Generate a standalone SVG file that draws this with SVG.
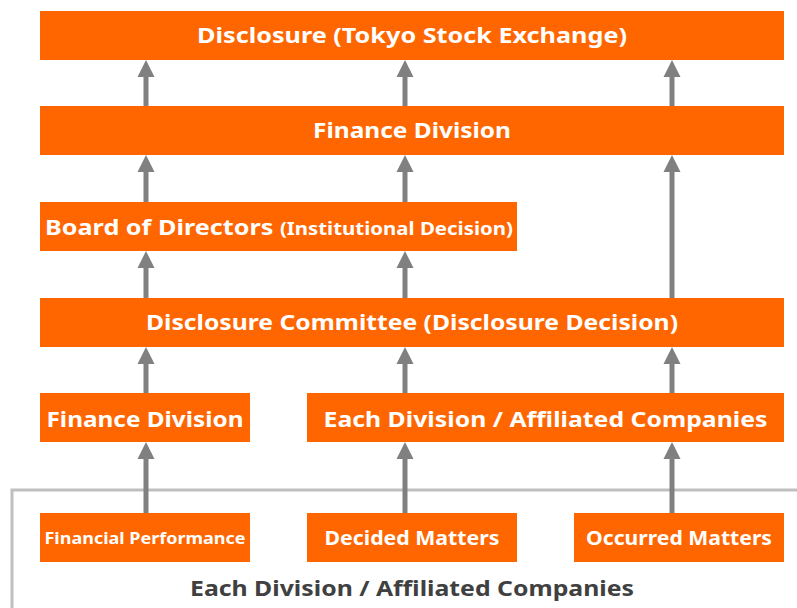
<svg xmlns="http://www.w3.org/2000/svg" width="797" height="608" viewBox="0 0 797 608">
<style>
.box{fill:#ff6600}
.t{font-family:"Noto Sans","DejaVu Sans",sans-serif;font-weight:bold;fill:#ffffff;text-anchor:middle}
.lbl{font-family:"Noto Sans","DejaVu Sans",sans-serif;font-weight:bold;fill:#404040;text-anchor:middle}
.sh{stroke:#808080;stroke-width:5;fill:none}
.hd{fill:#808080}
</style>
<defs>
<path id="ah" d="M0,0 L8.5,17 L-8.5,17 Z" class="hd"/>
</defs>
<rect width="797" height="608" fill="#ffffff"/>
<path d="M12,608 L12,490 L797,490" fill="none" stroke="#bfbfbf" stroke-width="3"/>
<g id="connectors">
<line class="sh" x1="146" y1="106" x2="146" y2="75"/><use href="#ah" x="146" y="60"/>
<line class="sh" x1="405" y1="106" x2="405" y2="75"/><use href="#ah" x="405" y="60"/>
<line class="sh" x1="672" y1="106" x2="672" y2="75"/><use href="#ah" x="672" y="60"/>
<line class="sh" x1="146" y1="202" x2="146" y2="170"/><use href="#ah" x="146" y="155"/>
<line class="sh" x1="405" y1="202" x2="405" y2="170"/><use href="#ah" x="405" y="155"/>
<line class="sh" x1="672" y1="298" x2="672" y2="170"/><use href="#ah" x="672" y="155"/>
<line class="sh" x1="146" y1="298" x2="146" y2="266"/><use href="#ah" x="146" y="251"/>
<line class="sh" x1="405" y1="298" x2="405" y2="266"/><use href="#ah" x="405" y="251"/>
<line class="sh" x1="146" y1="393" x2="146" y2="362"/><use href="#ah" x="146" y="347"/>
<line class="sh" x1="405" y1="393" x2="405" y2="362"/><use href="#ah" x="405" y="347"/>
<line class="sh" x1="672" y1="393" x2="672" y2="362"/><use href="#ah" x="672" y="347"/>
<line class="sh" x1="146" y1="513" x2="146" y2="457"/><use href="#ah" x="146" y="442"/>
<line class="sh" x1="405" y1="513" x2="405" y2="457"/><use href="#ah" x="405" y="442"/>
<line class="sh" x1="672" y1="513" x2="672" y2="457"/><use href="#ah" x="672" y="442"/>
</g>
<g id="disclosure-tse"><rect class="box" x="40" y="11" width="744" height="49"/><text class="t" x="412" y="43" font-size="22" textLength="430" lengthAdjust="spacingAndGlyphs">Disclosure (Tokyo Stock Exchange)</text></g>
<g id="finance-top"><rect class="box" x="40" y="106" width="744" height="49"/><text class="t" x="412" y="138" font-size="21" textLength="198" lengthAdjust="spacingAndGlyphs">Finance Division</text></g>
<g id="board"><rect class="box" x="40" y="202" width="477" height="49"/><text class="t" x="279" y="235" font-size="21" textLength="468" lengthAdjust="spacingAndGlyphs">Board of Directors <tspan font-size="17">(Institutional Decision)</tspan></text></g>
<g id="committee"><rect class="box" x="40" y="298" width="744" height="49"/><text class="t" x="412" y="330" font-size="21" textLength="532" lengthAdjust="spacingAndGlyphs">Disclosure Committee (Disclosure Decision)</text></g>
<g id="finance-low"><rect class="box" x="40" y="393" width="210" height="49"/><text class="t" x="145" y="427" font-size="21" textLength="197" lengthAdjust="spacingAndGlyphs">Finance Division</text></g>
<g id="each-division"><rect class="box" x="307" y="393" width="477" height="49"/><text class="t" x="545.5" y="427" font-size="21" textLength="444" lengthAdjust="spacingAndGlyphs">Each Division / Affiliated Companies</text></g>
<g id="fin-perf"><rect class="box" x="40" y="513" width="210" height="49"/><text class="t" x="145" y="544" font-size="16" textLength="201" lengthAdjust="spacingAndGlyphs">Financial Performance</text></g>
<g id="decided"><rect class="box" x="307" y="513" width="210" height="49"/><text class="t" x="412" y="545" font-size="19" textLength="175" lengthAdjust="spacingAndGlyphs">Decided Matters</text></g>
<g id="occurred"><rect class="box" x="574" y="513" width="210" height="49"/><text class="t" x="679" y="545" font-size="19" textLength="186" lengthAdjust="spacingAndGlyphs">Occurred Matters</text></g>
<text class="lbl" x="412" y="596" font-size="21" textLength="444" lengthAdjust="spacingAndGlyphs">Each Division / Affiliated Companies</text>
</svg>
